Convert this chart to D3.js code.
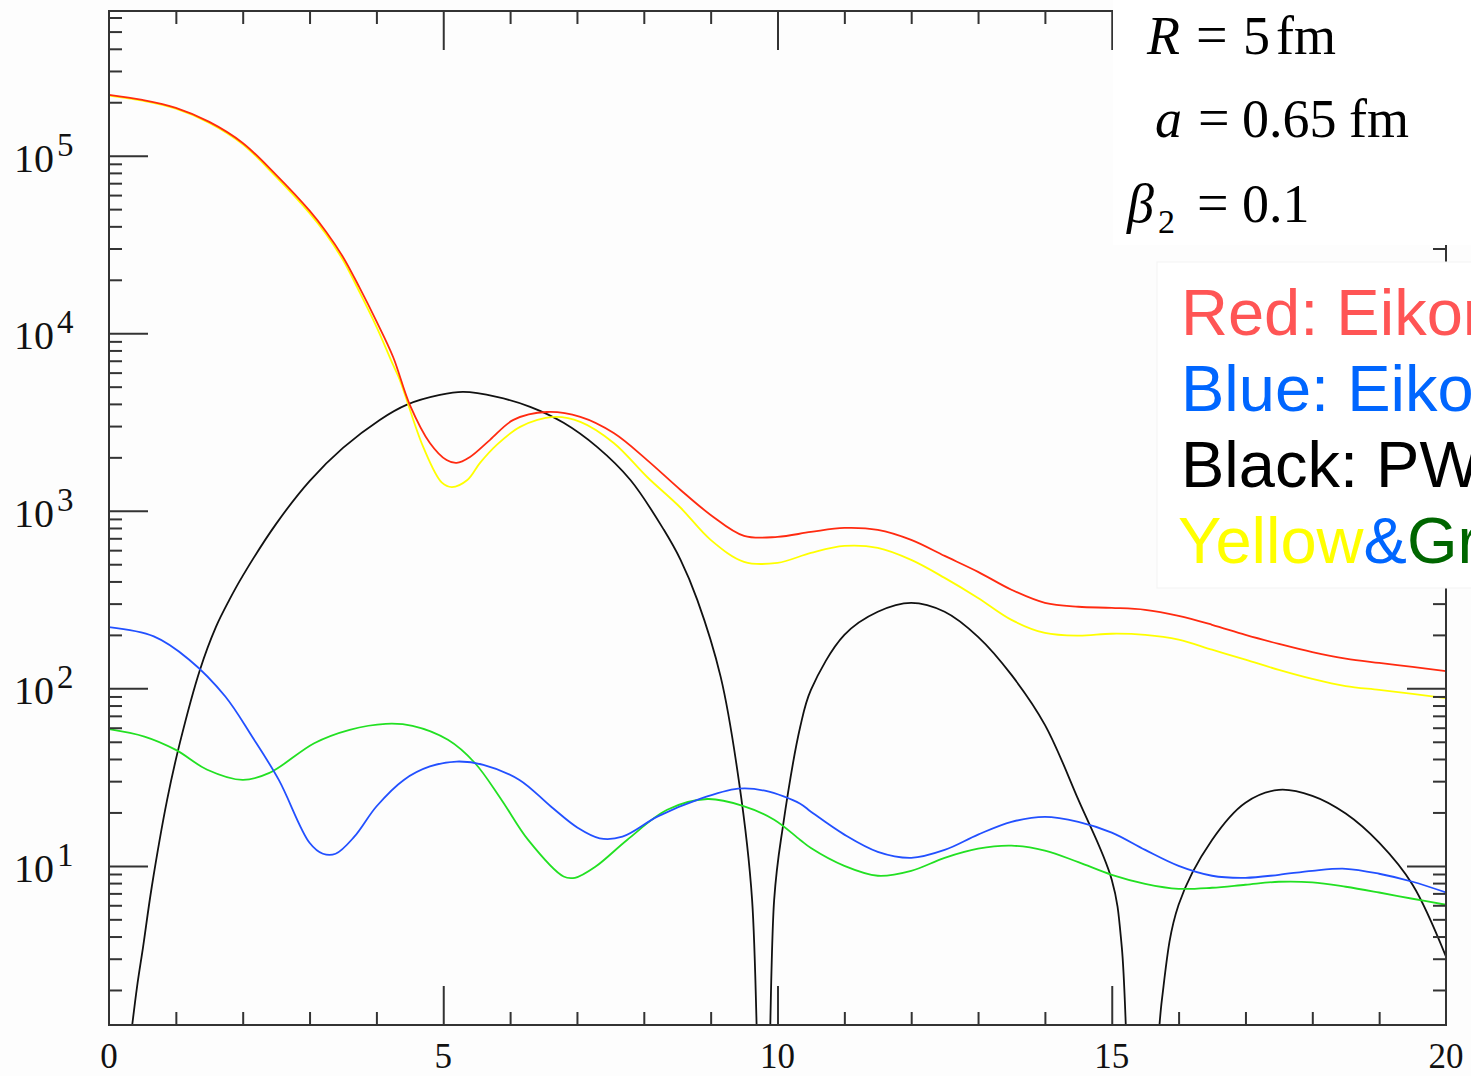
<!DOCTYPE html>
<html>
<head>
<meta charset="utf-8">
<script src="https://cdn.jsdelivr.net/npm/d3@7"></script>
<style>
    html, body { margin: 0; padding: 0; background: #fdfdfd; overflow: hidden; }
    svg { display: block; }
    .tickLabel { font-family: 'Liberation Serif', 'Times New Roman', serif; fill: #111; }
    .param { font-family: 'Liberation Serif', 'Times New Roman', serif; font-size: 54px; fill: #000; }
    .legendText { font-family: 'Liberation Sans', Arial, sans-serif; font-size: 65px; }
</style>
</head>
<body>
<svg id="chart" width="1471" height="1076"></svg>
<script>
// axis setup
const xDomain = [0, 20]
const yDomain = [1.27, 6.53e5]
const xLabels = [0, 5, 10, 15, 20]
const xMajor = [5, 10, 15]
const xMinor = [1, 2, 3, 4, 6, 7, 8, 9, 11, 12, 13, 14, 16, 17, 18, 19]
const yExponents = [1, 2, 3, 4, 5]
const yMinorMults = [2, 3, 4, 5, 6, 7, 8, 9]

// curves, [x, value]
const redCurve = [
    [0, 2.20e5], [0.5, 2.06e5], [1, 1.86e5], [1.5, 1.55e5], [2, 1.18e5], [2.5, 7.8e4], [3, 4.9e4],
    [3.25, 3.72e4], [3.5, 2.69e4], [3.75, 1.80e4], [4, 1.17e4], [4.25, 7.35e3], [4.5, 3.95e3],
    [4.8, 2.41e3], [5.05, 1.93e3], [5.2, 1.86e3], [5.4, 2.01e3], [5.7, 2.51e3], [6.05, 3.25e3],
    [6.55, 3.6e3], [7.05, 3.38e3], [7.55, 2.74e3], [8.05, 1.93e3], [8.55, 1.31e3], [9, 948],
    [9.5, 722], [10, 713], [10.5, 760], [11, 801], [11.5, 781], [12, 686], [12.5, 557], [13, 453],
    [13.5, 359], [14, 303], [14.5, 288], [15, 284], [15.5, 277], [16, 256], [16.5, 228], [17, 200],
    [17.5, 178], [18, 160], [18.5, 147], [19, 139], [19.5, 132], [20, 125]
]
const yellowCurve = [
    [0, 2.18e5], [0.5, 2.04e5], [1, 1.84e5], [1.5, 1.53e5], [2, 1.16e5], [2.5, 7.6e4], [3, 4.75e4],
    [3.25, 3.6e4], [3.5, 2.58e4], [3.75, 1.70e4], [4, 1.09e4], [4.25, 6.63e3], [4.35, 5.46e3],
    [4.7, 2.29e3], [4.98, 1.44e3], [5.13, 1.36e3], [5.36, 1.49e3], [5.55, 1.86e3], [5.8, 2.35e3],
    [6.15, 2.97e3], [6.65, 3.38e3], [7.05, 3.17e3], [7.55, 2.41e3], [8.05, 1.55e3], [8.55, 1.04e3],
    [9, 686], [9.5, 516], [10, 509], [10.5, 579], [11, 634], [11.5, 618], [12, 529], [12.5, 419],
    [13, 323], [13.5, 243], [14, 205], [14.5, 198], [15, 203], [15.5, 200], [16, 188], [16.5, 165],
    [17, 145], [17.5, 127], [18, 113], [18.5, 103], [19, 98], [19.5, 93], [20, 88]
]
const blackCurve = [
    [0.3, 0.9], [0.42, 2.09], [0.51, 3.5], [0.64, 7.63], [0.87, 23.6], [1.06, 49.3], [1.36, 127],
    [1.6, 222], [1.8, 315], [2, 430], [2.5, 844], [3, 1.47e3], [3.5, 2.26e3], [4.05, 3.25e3],
    [4.45, 3.95e3], [4.95, 4.49e3], [5.3, 4.67e3], [5.8, 4.38e3], [6.3, 3.85e3], [6.8, 3.13e3],
    [7.3, 2.29e3], [7.8, 1.49e3], [8.3, 781], [8.55, 529], [8.8, 315], [9.15, 116], [9.42, 30.5],
    [9.62, 6.44], [9.8, 0.02], [9.95, 6.44], [10.08, 16.6], [10.34, 60.7], [10.5, 98], [11, 200],
    [11.5, 270], [12, 303], [12.5, 270], [13, 195], [13.5, 119], [14, 62.3], [14.5, 23.6], [15, 8.35],
    [15.15, 3.5], [15.4, 0.02], [15.75, 1.76], [16, 6.04], [16.5, 14.0], [17, 22.7], [17.5, 26.8],
    [18, 24.8], [18.5, 19.7], [19, 13.5], [19.5, 7.83], [20, 3.08]
]
const blueCurve = [
    [0, 221], [0.67, 196], [1.2, 145], [1.74, 89.9], [2.14, 53.5], [2.54, 30.5], [3, 13.5], [3.2, 11.7],
    [3.39, 11.7], [3.67, 14.6], [4, 21.6], [4.41, 30.5], [4.8, 36.3], [5.2, 38.7], [5.6, 37.1],
    [6.14, 30.5], [6.61, 21.6], [7.01, 16.4], [7.34, 14.3], [7.68, 14.6], [8.21, 19.0], [8.81, 23.6],
    [9.41, 27.2], [9.81, 26.5], [10.34, 22.4], [10.5, 20.2], [11, 15.0], [11.5, 12.0], [12, 11.1],
    [12.5, 12.3], [13, 15.0], [13.5, 17.7], [14, 18.9], [14.5, 17.7], [15, 15.4], [15.5, 12.3],
    [16, 10.0], [16.5, 8.8], [17, 8.57], [17.5, 8.91], [18, 9.38], [18.5, 9.63], [19, 9.03],
    [19.5, 8.14], [20, 7.08]
]
const greenCurve = [
    [0, 58.9], [0.53, 53.5], [1, 45.0], [1.47, 34.8], [2, 30.5], [2.4, 33.4], [3.07, 49.1], [3.6, 58.4],
    [4.14, 63.1], [4.54, 61.5], [5.07, 51.3], [5.47, 38.1], [5.87, 23.6], [6.27, 14.0], [6.8, 8.71],
    [6.97, 8.57], [7.28, 9.92], [7.75, 14.0], [8.35, 20.7], [8.95, 23.8], [9.48, 21.8], [9.95, 18.2],
    [10.34, 14.0], [10.5, 12.6], [11, 10.0], [11.5, 8.8], [12, 9.38], [12.5, 11.1], [13, 12.5],
    [13.5, 13.0], [14, 12.2], [14.5, 10.5], [15, 8.91], [15.5, 7.93], [16, 7.43], [16.5, 7.53],
    [17, 7.83], [17.5, 8.14], [18, 8.08], [18.5, 7.63], [19, 7.08], [19.5, 6.53], [20, 6.04]
]

const legendLines = [
    [['Red: Eikonal', '#ff5555']],
    [['Blue: Eikonal', '#0066ff']],
    [['Black: PWIA', '#000000']],
    [['Yellow', '#ffff00'], ['&', '#0066ff'], ['Green', '#006600']]
]

const style = {
    w: 1471, h: 1076,
    pdg: { l: 109, r: 25, t: 11, b: 51 },
    tick: { major: 39, minor: 13, color: '#333' },
    line: 1.8
}

const svg = d3.select('#chart')
const plotL = style.pdg.l, plotR = style.w - style.pdg.r
const plotT = style.pdg.t, plotB = style.h - style.pdg.b

const x = d3.scaleLinear().domain(xDomain).range([plotL, plotR])
const y = d3.scaleLog().domain(yDomain).range([plotB, plotT])

function tickAxis(root, axis, values, size, transform) {
    root.append('g')
        .attr('transform', transform)
        .call(axis.tickValues(values).tickSize(-size).tickFormat(''))
        .call(g => g.select('.domain').remove())
        .selectAll('line')
        .attr('stroke', style.tick.color)
        .attr('stroke-width', 2)
}

function drawAxes(root) {
    let yMinor = []
    yExponents.concat([0]).forEach(k => yMinorMults.forEach(m => {
        let v = m * Math.pow(10, k)
        if (v > yDomain[0] && v < yDomain[1]) yMinor.push(v)
    }))
    let yMajor = yExponents.map(k => Math.pow(10, k))

    let axesG = root.append('g').attr('id', 'axesG')
    tickAxis(axesG, d3.axisBottom(x), xMajor, style.tick.major, `translate(0,${plotB})`)
    tickAxis(axesG, d3.axisBottom(x), xMinor, style.tick.minor, `translate(0,${plotB})`)
    tickAxis(axesG, d3.axisTop(x), xMajor, style.tick.major, `translate(0,${plotT})`)
    tickAxis(axesG, d3.axisTop(x), xMinor, style.tick.minor, `translate(0,${plotT})`)
    tickAxis(axesG, d3.axisLeft(y), yMajor, style.tick.major, `translate(${plotL},0)`)
    tickAxis(axesG, d3.axisLeft(y), yMinor, style.tick.minor, `translate(${plotL},0)`)
    tickAxis(axesG, d3.axisRight(y), yMajor, style.tick.major, `translate(${plotR},0)`)
    tickAxis(axesG, d3.axisRight(y), yMinor, style.tick.minor, `translate(${plotR},0)`)

    axesG.append('rect')
        .attr('x', plotL)
        .attr('y', plotT)
        .attr('width', plotR - plotL)
        .attr('height', plotB - plotT)
        .attr('fill', 'none')
        .attr('stroke', style.tick.color)
        .attr('stroke-width', 2)

    axesG.selectAll('.xLabel')
        .data(xLabels)
        .enter()
        .append('text')
        .classed('tickLabel', true)
        .attr('x', d => x(d))
        .attr('y', plotB + 43)
        .attr('font-size', 35)
        .style('text-anchor', 'middle')
        .text(d => d)

    let yLab = axesG.selectAll('.yLabel')
        .data(yExponents)
        .enter()
        .append('text')
        .classed('tickLabel', true)
        .attr('x', 14)
        .attr('y', d => y(Math.pow(10, d)) + 16)
        .attr('font-size', 40)
    yLab.append('tspan').text('10')
    yLab.append('tspan')
        .attr('dx', 3)
        .attr('dy', -16)
        .attr('font-size', 33)
        .text(d => d)
}

function drawCurves(root) {
    root.append('clipPath')
        .attr('id', 'clippy')
        .append('rect')
        .attr('x', plotL)
        .attr('y', plotT)
        .attr('width', plotR - plotL)
        .attr('height', plotB - plotT)

    let line = d3.line()
        .x(d => x(d[0]))
        .y(d => y(d[1]))
        .curve(d3.curveCatmullRom.alpha(0.5))

    let curves = [
        [blackCurve, '#111111'],
        [greenCurve, '#22e022'],
        [blueCurve, '#2250ff'],
        [yellowCurve, '#ffff00'],
        [redCurve, '#ff2a10']
    ]
    root.append('g')
        .attr('clip-path', 'url(#clippy)')
        .selectAll('path')
        .data(curves)
        .enter()
        .append('path')
        .attr('d', d => line(d[0]))
        .attr('fill', 'none')
        .attr('stroke', d => d[1])
        .attr('stroke-width', style.line)
}

function drawParams(root) {
    let g = root.append('g')
    g.append('rect')
        .attr('x', 1113)
        .attr('y', 0)
        .attr('width', 400)
        .attr('height', 245)
        .attr('fill', '#ffffff')

    let l1 = g.append('text').classed('param', true).attr('y', 54)
    l1.append('tspan').attr('x', 1147).style('font-style', 'italic').text('R')
    l1.append('tspan').attr('x', 1196).attr('font-size', 56).text('=')
    l1.append('tspan').attr('x', 1243).text('5')
    l1.append('tspan').attr('x', 1276).text('fm')

    let l2 = g.append('text').classed('param', true).attr('y', 137)
    l2.append('tspan').attr('x', 1155).style('font-style', 'italic').text('a')
    l2.append('tspan').attr('x', 1198).attr('font-size', 56).text('=')
    l2.append('tspan').attr('x', 1242).text('0.65')
    l2.append('tspan').attr('x', 1349).text('fm')

    let l3 = g.append('text').classed('param', true).attr('y', 222)
    l3.append('tspan').attr('x', 1127).style('font-style', 'italic').text('β')
    l3.append('tspan').attr('x', 1158).attr('dy', 11).attr('font-size', 34).text('2')
    l3.append('tspan').attr('x', 1197).attr('dy', -11).attr('font-size', 56).text('=')
    l3.append('tspan').attr('x', 1242).text('0.1')
}

function drawLegend(root) {
    let g = root.append('g')
    g.append('rect')
        .attr('x', 1157)
        .attr('y', 262)
        .attr('width', 330)
        .attr('height', 326)
        .attr('fill', '#ffffff')
        .attr('stroke', '#f3f3f3')

    let texts = g.selectAll('.legendText')
        .data(legendLines)
        .enter()
        .append('text')
        .classed('legendText', true)
        .attr('x', (d, i) => i == 3 ? 1178 : 1181)
        .attr('y', (d, i) => 335 + i * 76)

    texts.selectAll('tspan')
        .data(d => d)
        .enter()
        .append('tspan')
        .attr('fill', d => d[1])
        .text(d => d[0])
}

drawCurves(svg)
drawAxes(svg)
drawParams(svg)
drawLegend(svg)
</script>
</body>
</html>
